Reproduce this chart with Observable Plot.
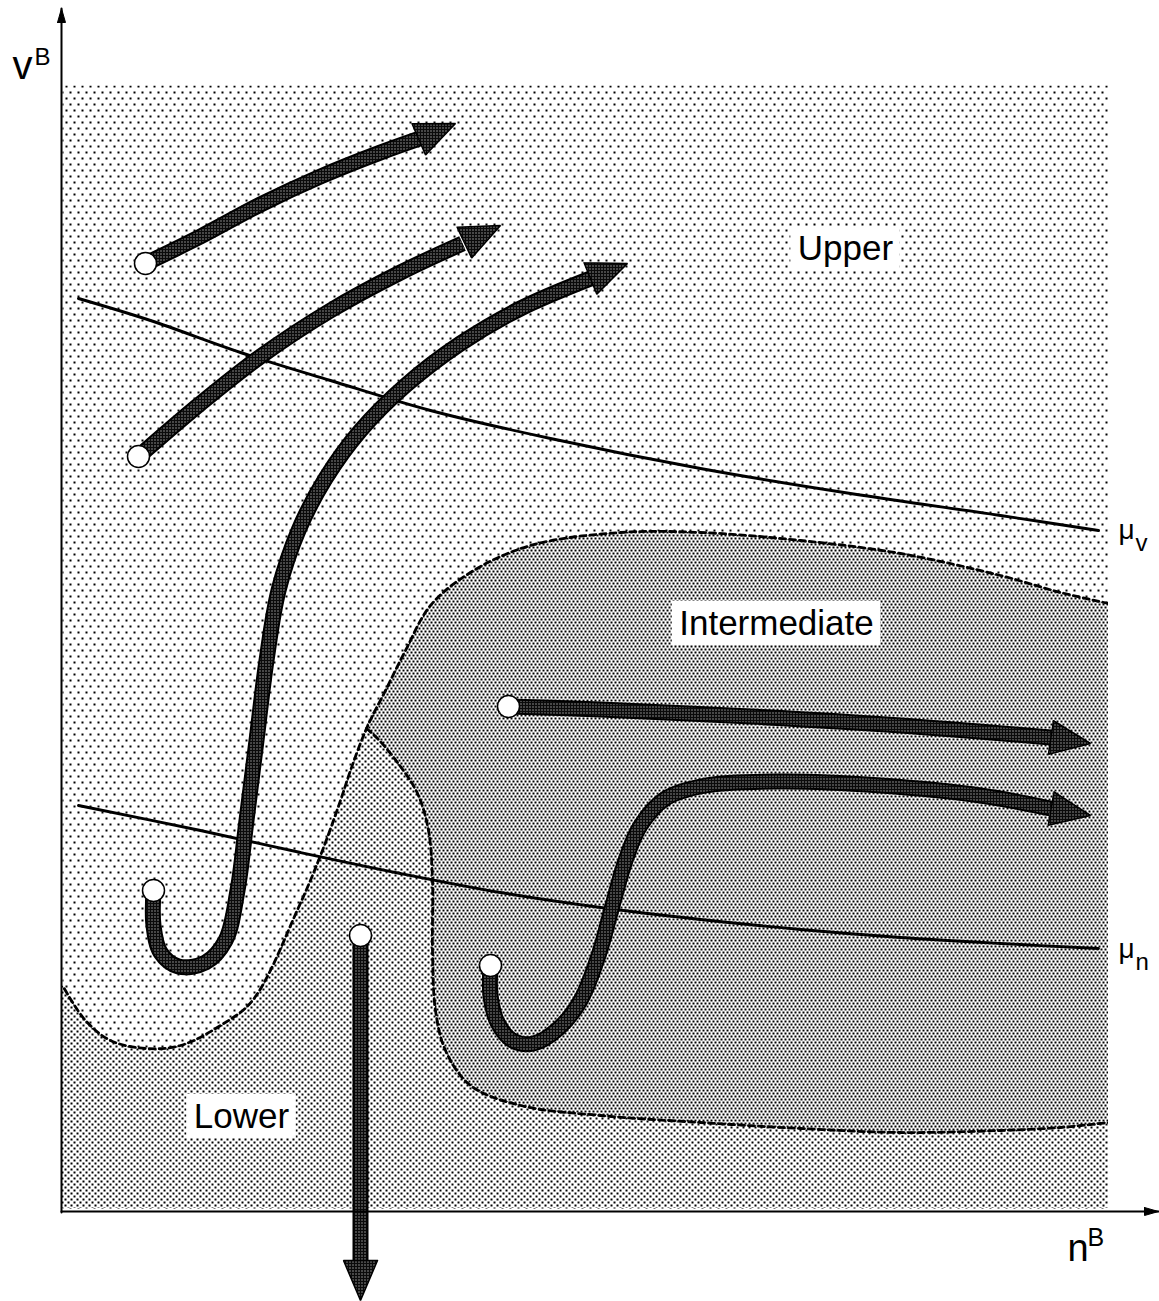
<!DOCTYPE html>
<html>
<head>
<meta charset="utf-8">
<script src="https://cdn.jsdelivr.net/npm/d3@7"></script>
<script src="https://cdn.jsdelivr.net/npm/@observablehq/plot@0.6"></script>
<style>
  html, body { margin: 0; padding: 0; background: #fff; }
  #chart svg { display: block; }
</style>
</head>
<body>
<div id="chart"></div>
<script>
// ---- Data (abstract units: n^B along x, v^B along y) ----
// Dashed boundary: top of Intermediate region (right edge -> junction)
const interTop = [[1046,605],[998,616],[938,633],[838,655],[738,668],[638,676],[558,676],[468,663],[408,636],[368,603],[343,558],[323,518],[304,480]];
// Dashed boundary continuing: top of Lower region (junction -> left edge)
const lowerTop = [[304,480],[288,438],[278,408],[258,353],[236,301],[190,208],[158,183],[118,163],[83,160],[48,168],[23,188],[0,223]];
// Dashed boundary: left/bottom of Intermediate region (junction -> right edge)
const interEdge = [[304,480],[315,470],[335,446],[355,415],[366,378],[370,328],[370,258],[373,198],[383,158],[408,123],[458,103],[538,93],[638,86],[738,80],[838,76],[938,78],[998,81],[1046,86]];

// Nullclines
const muV = [[16,910],[88,888],[178,856],[268,828],[368,798],[488,770],[638,740],[788,715],[938,693],[1036,678]];
const muN = [[16,403],[138,378],[238,356],[338,335],[438,316],[538,301],[638,289],[738,279],[838,271],[938,265],[1036,260]];

// Trajectories (start point first) and arrow tips
const traj1 = [[83,945],[138,972],[198,1004],[258,1032],[318,1056],[363,1072]];
const tip1 = [393,1085];
const traj2 = [[76,752],[138,805],[198,852],[268,898],[338,936],[400,965]];
const tip2 = [438,983];
const traj3 = [[91,318],[91,283],[98,256],[116,242],[143,246],[163,268],[175,318],[184,388],[194,468],[204,548],[216,618],[236,678],[263,730],[298,778],[343,823],[398,865],[458,900],[528,930]];
const tip3 = [565,945];
const traj4 = [[446,502],[538,499],[688,492],[838,483],[988,471]];
const tip4 = [1028,465];
const traj5 = [[428,243],[428,213],[435,186],[450,168],[471,165],[496,180],[518,208],[536,253],[550,303],[563,348],[578,383],[603,410],[643,423],[718,427],[818,423],[918,413],[988,400]];
const tip5 = [1028,393];
const traj6 = [[298,273],[298,-62]];
const tip6 = [298,-92];

// Region labels
const regionLabels = ["Upper", "Intermediate", "Lower"];
const regionLabelX = [783, 714, 179];
const regionLabelY = [960, 585, 92];

// Curve labels
const curveLabelSub = ["v", "n"];
const curveLabelX = [1056, 1056];
const curveLabelY = [670, 251];

// Axes extents
const yAxisExtent = [[-1,-4],[-1,1200]];
const xAxisExtent = [[-1,-3],[1096,-3]];

// ---- Derived structures ----
const trajs = [[traj1,tip1],[traj2,tip2],[traj3,tip3],[traj4,tip4],[traj5,tip5],[traj6,tip6]];
const shaftRows = trajs.flatMap(([t], i) => t.map(([x,y]) => ({id:i, x, y})));
function headPoly(last, tip, L, hw) {
  const dx = tip[0]-last[0], dy = tip[1]-last[1];
  const len = Math.hypot(dx, dy), ux = dx/len, uy = dy/len;
  const bx = tip[0]-ux*L, by = tip[1]-uy*L, nx = -uy, ny = ux;
  return [[bx+nx*hw, by+ny*hw],[tip[0],tip[1]],[bx-nx*hw, by-ny*hw],[bx+nx*hw, by+ny*hw]];
}
const headRows = trajs.flatMap(([t, tip], i) => headPoly(t[t.length-1], tip, 40, 17).map(([x,y]) => ({id:i, x, y})));
const startRows = trajs.map(([t], i) => ({id:i, x:t[0][0], y:t[0][1]}));

const axisRows = [
  ...yAxisExtent.map(([x,y]) => ({id:"y", x, y})),
  ...xAxisExtent.map(([x,y]) => ({id:"x", x, y}))
];
const axisHeadRows = [
  ...headPoly(yAxisExtent[0], yAxisExtent[1], 14, 4).map(([x,y]) => ({id:"y", x, y})),
  ...headPoly(xAxisExtent[0], xAxisExtent[1], 14, 4).map(([x,y]) => ({id:"x", x, y}))
];

const toRows = arr => arr.map(([x,y]) => ({x, y}));
const dashedOuter = toRows([...interTop, ...lowerTop.slice(1)]);
const dashedInner = toRows(interEdge);
const lowerPoly = toRows([...lowerTop, [-20,255],[-80,300],[-80,-80],[1120,-80],[1120,90],[1080,88], ...interEdge.slice().reverse()]);
const interPoly = toRows([...interTop, ...interEdge.slice(1), [1080,88],[1120,88],[1120,610],[1080,610]]);

const FONT = "Liberation Sans, Arial, Helvetica, sans-serif";
const LABEL_SIZE = 35;
const ctx = document.createElement("canvas").getContext("2d");
ctx.font = `${LABEL_SIZE}px "Liberation Sans"`;
const labelRows = regionLabels.map((t, i) => ({text:t, x:regionLabelX[i], y:regionLabelY[i]}));
const boxRows = labelRows.map(d => {
  const w = ctx.measureText(d.text).width + 14;
  return {x1:d.x - w/2, x2:d.x + w/2, y1:d.y - 22, y2:d.y + 22};
});
const curveRows = curveLabelSub.map((s, i) => ({sub:s, x:curveLabelX[i], y:curveLabelY[i]}));

const chart = Plot.plot({
  width: 1159,
  height: 1301,
  marginLeft: 62,
  marginRight: 51,
  marginTop: 85,
  marginBottom: 93,
  x: {domain: [0, 1046], axis: null},
  y: {domain: [0, 1123], axis: null},
  style: {fontFamily: FONT, background: "white", overflow: "visible"},
  marks: [
    Plot.frame({fill: "url(#pUpper)", stroke: "none"}),
    Plot.line(lowerPoly, {x:"x", y:"y", fill:"url(#pLower)", stroke:"none", curve:"catmull-rom", clip:true}),
    Plot.line(interPoly, {x:"x", y:"y", fill:"url(#pInter)", stroke:"none", curve:"catmull-rom", clip:true}),
    Plot.line(dashedOuter, {x:"x", y:"y", stroke:"black", strokeWidth:2.8, strokeDasharray:"6,4", curve:"catmull-rom", clip:true}),
    Plot.line(dashedInner, {x:"x", y:"y", stroke:"black", strokeWidth:2.8, strokeDasharray:"6,4", curve:"catmull-rom", clip:true}),
    Plot.line(toRows(muV), {x:"x", y:"y", stroke:"black", strokeWidth:2.9, curve:"catmull-rom"}),
    Plot.line(toRows(muN), {x:"x", y:"y", stroke:"black", strokeWidth:2.9, curve:"catmull-rom"}),
    Plot.rect(boxRows, {x1:"x1", x2:"x2", y1:"y1", y2:"y2", fill:"white"}),
    Plot.text(labelRows, {x:"x", y:"y", text:"text", fontSize:LABEL_SIZE, fill:"black", lineAnchor:"middle"}),
    Plot.line(shaftRows, {x:"x", y:"y", z:"id", stroke:"black", strokeWidth:16, curve:"catmull-rom", strokeLinecap:"butt", strokeLinejoin:"round"}),
    Plot.line(shaftRows, {x:"x", y:"y", z:"id", stroke:"url(#pArrow)", strokeWidth:12, curve:"catmull-rom", strokeLinecap:"butt", strokeLinejoin:"round"}),
    Plot.line(headRows, {x:"x", y:"y", z:"id", fill:"url(#pArrow)", stroke:"black", strokeWidth:1.5, strokeLinejoin:"miter"}),
    Plot.dot(startRows, {x:"x", y:"y", r:11, fill:"white", stroke:"black", strokeWidth:1.5}),
    Plot.text(curveRows, {x:"x", y:"y", text:() => "\u03bc", fontSize:28, textAnchor:"start", lineAnchor:"bottom", fill:"black"}),
    Plot.text(curveRows, {x:"x", y:"y", text:"sub", fontSize:24, textAnchor:"start", lineAnchor:"bottom", dx:17, dy:12, fill:"black"}),
    Plot.line(axisRows, {x:"x", y:"y", z:"id", stroke:"black", strokeWidth:2}),
    Plot.line(axisHeadRows, {x:"x", y:"y", z:"id", fill:"black", stroke:"black", strokeWidth:1}),
    Plot.text([{t:"v", x:-50, y:1130}], {x:"x", y:"y", text:"t", fontSize:40, textAnchor:"start", lineAnchor:"bottom", fill:"black"}),
    Plot.text([{t:"B", x:-28, y:1144}], {x:"x", y:"y", text:"t", fontSize:24, textAnchor:"start", lineAnchor:"bottom", fill:"black"}),
    Plot.text([{t:"n", x:1005, y:-52}], {x:"x", y:"y", text:"t", fontSize:38, textAnchor:"start", lineAnchor:"bottom", fill:"black"}),
    Plot.text([{t:"B", x:1025, y:-37}], {x:"x", y:"y", text:"t", fontSize:25, textAnchor:"start", lineAnchor:"bottom", fill:"black"})
  ]
});

// Stipple patterns (crisp square dots)
const defs = `
<defs>
  <pattern id="pUpper" patternUnits="userSpaceOnUse" width="8" height="12">
    <rect width="8" height="12" fill="white"/>
    <rect x="1" y="1" width="2" height="2" fill="black" shape-rendering="crispEdges"/>
    <rect x="5" y="7" width="2" height="2" fill="black" shape-rendering="crispEdges"/>
  </pattern>
  <pattern id="pLower" patternUnits="userSpaceOnUse" width="6" height="6">
    <rect width="6" height="6" fill="white"/>
    <rect x="1" y="1" width="2" height="2" fill="black" shape-rendering="crispEdges"/>
    <rect x="4" y="4" width="2" height="2" fill="black" shape-rendering="crispEdges"/>
  </pattern>
  <pattern id="pInter" patternUnits="userSpaceOnUse" width="4" height="6">
    <rect width="4" height="6" fill="white"/>
    <rect x="0" y="0" width="2" height="2" fill="black" shape-rendering="crispEdges"/>
    <rect x="2" y="3" width="2" height="2" fill="black" shape-rendering="crispEdges"/>
  </pattern>
  <pattern id="pArrow" patternUnits="userSpaceOnUse" width="3" height="3">
    <rect width="3" height="3" fill="#0a0a0a"/>
    <rect x="1" y="1" width="1.2" height="1.2" fill="white" shape-rendering="crispEdges"/>
  </pattern>
</defs>`;
chart.insertAdjacentHTML("afterbegin", defs);
document.getElementById("chart").appendChild(chart);
</script>
</body>
</html>
